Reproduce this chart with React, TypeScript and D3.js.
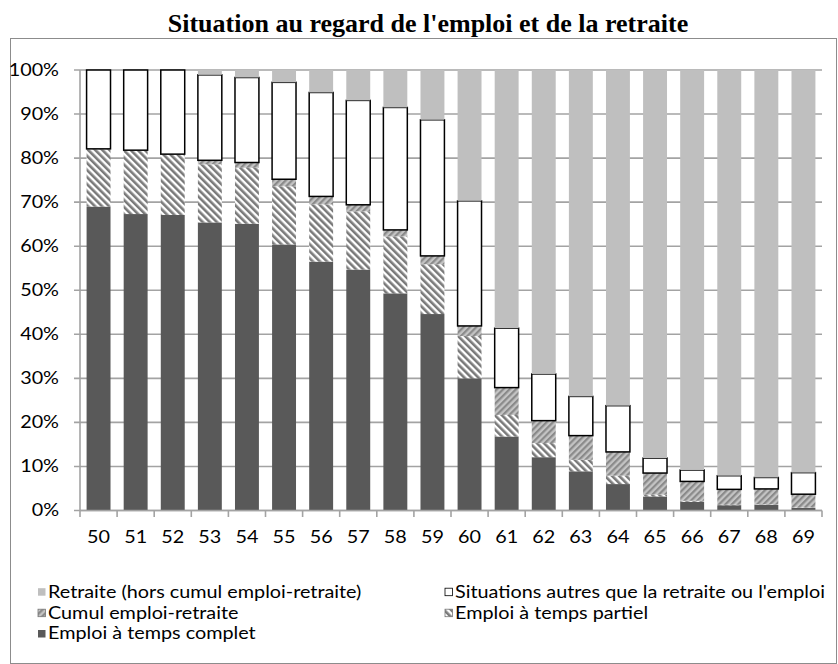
import React, {useEffect, useRef} from 'react';
import * as d3 from 'd3';

const ages = ['50', '51', '52', '53', '54', '55', '56', '57', '58', '59', '60', '61', '62', '63', '64', '65', '66', '67', '68', '69'];
// shares in % (bottom to top)
const complet = [69.0, 67.3, 67.1, 65.4, 65.1, 60.4, 56.5, 54.7, 49.3, 44.6, 30.0, 16.8, 12.1, 8.9, 6.0, 3.2, 2.0, 1.2, 1.3, 0.6];
const partiel = [13.0, 14.4, 13.7, 13.2, 12.7, 13.2, 13.0, 13.2, 12.9, 11.3, 9.6, 4.9, 3.2, 2.6, 1.9, 0.4, 0.2, 0.1, 0.1, 0.1];
const cumul = [0.1, 0.1, 0.1, 0.9, 1.2, 1.6, 1.8, 1.5, 1.5, 1.9, 2.3, 6.2, 5.1, 5.5, 5.4, 4.9, 4.4, 3.5, 3.5, 3.0];
const autres = [17.9, 18.2, 19.1, 19.4, 19.3, 22.0, 23.6, 23.7, 27.8, 30.9, 28.4, 13.5, 10.6, 8.9, 10.5, 3.4, 2.6, 3.1, 2.6, 4.9];
const retraite = [0, 0, 0, 1.1, 1.7, 2.8, 5.1, 6.9, 8.5, 11.3, 29.7, 58.6, 69.0, 74.1, 76.2, 88.1, 90.8, 92.1, 92.5, 91.4];
const yTicks = [0, 10, 20, 30, 40, 50, 60, 70, 80, 90, 100];

const keys = ['complet', 'partiel', 'cumul', 'autres', 'retraite'];
const labels = {
    complet: 'Emploi à temps complet',
    partiel: 'Emploi à temps partiel',
    cumul: 'Cumul emploi-retraite',
    autres: "Situations autres que la retraite ou l'emploi",
    retraite: 'Retraite (hors cumul emploi-retraite)',
};
const fills = {
    complet: '#595959',
    partiel: 'url(#pPartiel)',
    cumul: 'url(#pCumul)',
    autres: '#ffffff',
    retraite: '#bfbfbf',
};

const W = 838, H = 664;
const FONT = 'Lato, "Open Sans", sans-serif';
const FS = '16.5px';
const SX = 1.2; // the reference text is wide for its height

export default function App() {
    const svgRef = useRef<SVGSVGElement>(null);

    useEffect(() => {
        const svg = d3.select(svgRef.current);
        svg.selectAll('*').remove();

        const rows = ages.map((a, i) => ({
            age: a, complet: complet[i], partiel: partiel[i], cumul: cumul[i], autres: autres[i], retraite: retraite[i],
        }));
        const stacked = d3.stack<any>().keys(keys)(rows);

        const x = d3.scaleBand().domain(ages).range([80, 822]).paddingInner(0.355).paddingOuter(0.1775);
        const y = d3.scaleLinear().domain([0, 100]).range([510.5, 70]);
        const step = x.step();

        // patterns
        const defs = svg.append('defs');
        const pp = defs.append('pattern').attr('id', 'pPartiel').attr('patternUnits', 'userSpaceOnUse')
            .attr('width', 5).attr('height', 5).attr('patternTransform', 'rotate(-45)');
        pp.append('rect').attr('width', 5).attr('height', 5).attr('fill', '#ffffff');
        pp.append('rect').attr('width', 2.6).attr('height', 5).attr('fill', '#7a7a7a');
        const pc = defs.append('pattern').attr('id', 'pCumul').attr('patternUnits', 'userSpaceOnUse')
            .attr('width', 4.5).attr('height', 4.5).attr('patternTransform', 'rotate(45)');
        pc.append('rect').attr('width', 4.5).attr('height', 4.5).attr('fill', '#c4c4c4');
        pc.append('rect').attr('width', 2.2).attr('height', 4.5).attr('fill', '#8a8a8a');

        // chart frame
        svg.append('rect').attr('x', 10.5).attr('y', 38.5).attr('width', 826).attr('height', 625)
            .attr('fill', 'none').attr('stroke', '#8c8c8c').attr('stroke-width', 1);

        // title
        svg.append('text').attr('x', 428).attr('y', 32).attr('text-anchor', 'middle')
            .style('font-family', '"Liberation Serif", "Times New Roman", serif')
            .style('font-weight', 'bold').style('font-size', '26px').attr('fill', '#000')
            .text("Situation au regard de l'emploi et de la retraite");

        // gridlines + y labels
        const grid = svg.append('g');
        grid.selectAll('line').data(yTicks).join('line')
            .attr('x1', 74).attr('x2', 822)
            .attr('y1', d => y(d)).attr('y2', d => y(d))
            .attr('stroke', '#a3a3a3').attr('stroke-width', 1.6);
        svg.append('g').selectAll('text').data(yTicks).join('text')
            .attr('transform', d => `translate(59,${y(d)}) scale(${SX},1)`)
            .attr('dy', '0.36em').attr('text-anchor', 'end')
            .style('font-family', FONT).style('font-size', FS).attr('fill', '#000')
            .text(d => d + '%');

        // bars
        const g = svg.append('g');
        stacked.forEach(layer => {
            const key = layer.key;
            g.append('g').selectAll('rect').data(layer).join('rect')
                .attr('x', (d: any) => x(d.data.age)!)
                .attr('width', x.bandwidth())
                .attr('y', (d: any) => y(d[1]))
                .attr('height', (d: any) => Math.max(0, y(d[0]) - y(d[1])))
                .attr('fill', fills[key])
                .attr('stroke', key === 'autres' ? '#000' : 'none')
                .attr('stroke-width', key === 'autres' ? 1.5 : 0);
        });

        // axes
        svg.append('line').attr('x1', 80).attr('x2', 80).attr('y1', 70).attr('y2', 510.5)
            .attr('stroke', '#a3a3a3').attr('stroke-width', 1.6);
        svg.append('line').attr('x1', 80).attr('x2', 822).attr('y1', 510.5).attr('y2', 510.5)
            .attr('stroke', '#a3a3a3').attr('stroke-width', 1.6);
        svg.append('g').selectAll('line').data(d3.range(ages.length + 1)).join('line')
            .attr('x1', i => 80 + i * step).attr('x2', i => 80 + i * step)
            .attr('y1', 510.5).attr('y2', 517)
            .attr('stroke', '#a3a3a3').attr('stroke-width', 1.6);
        svg.append('g').selectAll('text').data(ages).join('text')
            .attr('transform', d => `translate(${x(d)! + x.bandwidth() / 2},537) scale(${SX},1)`)
            .attr('dy', '0.36em').attr('text-anchor', 'middle')
            .style('font-family', FONT).style('font-size', FS).attr('fill', '#000')
            .text(d => d);

        // legend
        const legendItems = [
            {key: 'retraite', x: 38, y: 591.7},
            {key: 'autres', x: 445, y: 591.7},
            {key: 'cumul', x: 38, y: 612.7},
            {key: 'partiel', x: 445, y: 612.7},
            {key: 'complet', x: 38, y: 633.5},
        ];
        const lg = svg.append('g').selectAll('g').data(legendItems).join('g')
            .attr('transform', d => `translate(${d.x},${d.y})`);
        lg.append('rect').attr('x', 0).attr('y', -3.5).attr('width', 7.5).attr('height', 7.5)
            .attr('fill', d => fills[d.key])
            .attr('stroke', d => d.key === 'autres' ? '#000' : (d.key === 'partiel' || d.key === 'cumul' ? '#777' : 'none'))
            .attr('stroke-width', 0.8);
        lg.append('text').attr('transform', `translate(10,0) scale(${SX},1)`).attr('dy', '0.36em')
            .style('font-family', FONT).style('font-size', FS).attr('fill', '#000')
            .text(d => labels[d.key]);
    }, []);

    return <svg ref={svgRef} width={W} height={H} style={{position: 'absolute', left: 0, top: 0, background: '#fff'}}/>;
}
